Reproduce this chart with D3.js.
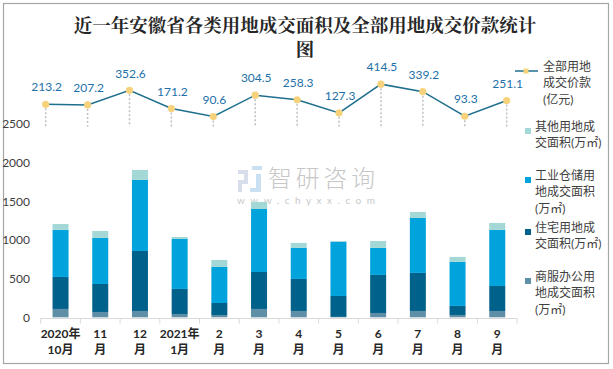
<!DOCTYPE html>
<html><head><meta charset="utf-8">
<script src="https://cdn.jsdelivr.net/npm/d3@7"></script>
<style>
html,body{margin:0;padding:0;background:#fff;}
svg{display:block;}
text{font-family:"Lato","Noto Sans CJK SC",sans-serif;}
</style></head>
<body>
<svg id="c" width="613" height="369"></svg>
<script>
const categories = [["2020年","10月"],["11","月"],["12","月"],["2021年","1月"],["2","月"],["3","月"],["4","月"],["5","月"],["6","月"],["7","月"],["8","月"],["9","月"]];
const commercial = [108, 69, 82, 43, 30, 108, 82, 5, 56, 82, 30, 82];
const residential = [414, 362, 776, 324, 155, 478, 414, 271, 492, 492, 117, 323];
const industrial = [608, 595, 919, 646, 466, 815, 401, 699, 349, 711, 569, 725];
const other = [77, 91, 129, 26, 91, 91, 65, 12, 90, 78, 65, 90];
const price = [213.2, 207.2, 352.6, 171.2, 90.6, 304.5, 258.3, 127.3, 414.5, 339.2, 93.3, 251.1];
const yTicks = [0, 500, 1000, 1500, 2000, 2500];

const colors = ["#5f8fa7","#00618a","#00a3dc","#a4d8d7"];
const svg = d3.select("#c");

// border
svg.append("rect").attr("x",3.5).attr("y",3.5).attr("width",605).attr("height",360)
  .attr("fill","none").attr("stroke","#a6a6a6").attr("stroke-width",1.2);

// title
const tfont = '"Noto Serif CJK SC","Noto Sans CJK SC",serif';
svg.append("text").attr("x",305).attr("y",32).attr("text-anchor","middle")
  .attr("font-size",18.5).attr("font-weight",700).attr("fill","#262626")
  .style("font-family",tfont).text("近一年安徽省各类用地成交面积及全部用地成交价款统计");
svg.append("text").attr("x",305).attr("y",56).attr("text-anchor","middle")
  .attr("font-size",18.5).attr("font-weight",700).attr("fill","#262626")
  .style("font-family",tfont).text("图");

// watermark
const wm = svg.append("g").attr("opacity",0.55);
wm.append("rect").attr("x",238).attr("y",170).attr("width",10).attr("height",4).attr("fill","#b7c3dc");
wm.append("rect").attr("x",244).attr("y",170).attr("width",4).attr("height",12).attr("fill","#b7c3dc");
wm.append("rect").attr("x",238).attr("y",180).attr("width",10).attr("height",4).attr("fill","#b7c3dc");
wm.append("rect").attr("x",238).attr("y",180).attr("width",4).attr("height",12).attr("fill","#b7c3dc");
wm.append("rect").attr("x",252).attr("y",166).attr("width",10).attr("height",4).attr("fill","#9cc8e8");
wm.append("rect").attr("x",256).attr("y",174).attr("width",5).attr("height",18).attr("fill","#9cc8e8");
wm.append("rect").attr("x",250).attr("y",188).attr("width",11).attr("height",4).attr("fill","#9cc8e8");
wm.append("text").attr("x",268).attr("y",187).attr("font-size",24).attr("fill","#9a9a9a")
  .style("font-family",'"Noto Sans CJK SC",sans-serif').style("font-weight",300)
  .attr("textLength",107).text("智研咨询");
wm.append("text").attr("x",237).attr("y",204).attr("font-size",10).attr("fill","#9a9a9a")
  .attr("textLength",138).text("www.chyxx.com");

// bar scales
const xb = d3.scaleBand().domain(d3.range(12)).range([40.7, 517.1]);
const y = d3.scaleLinear().domain([0, 2500]).range([317.3, 124]);
const bw = 16;

// stacks
const rows = d3.range(12).map(i => ({i, c: commercial[i], r: residential[i], ind: industrial[i], o: other[i]}));
const stack = d3.stack().keys(["c","r","ind","o"])(rows);
svg.append("g").selectAll("g").data(stack).join("g").attr("fill",(d,k)=>colors[k])
  .selectAll("rect").data(d=>d).join("rect")
  .attr("x",d=>xb(d.data.i)+xb.bandwidth()/2-bw/2).attr("width",bw)
  .attr("y",d=>y(d[1])).attr("height",d=>y(d[0])-y(d[1]));

// y axis labels
svg.append("g").selectAll("text").data(yTicks).join("text")
  .attr("x",30).attr("y",d=>y(d)).attr("dy","0.35em").attr("text-anchor","end")
  .attr("font-size",12).attr("fill","#404040").text(d=>d);

// x axis
const xa = svg.append("g");
xa.append("line").attr("x1",xb.range()[0]).attr("x2",xb.range()[1]).attr("y1",318.5).attr("y2",318.5)
  .attr("stroke","#d9d9d9").attr("stroke-width",1);
xa.selectAll("line.t").data(d3.range(13)).join("line").attr("class","t")
  .attr("x1",i=>xb.range()[0]+i*xb.step()).attr("x2",i=>xb.range()[0]+i*xb.step())
  .attr("y1",318.5).attr("y2",323.5).attr("stroke","#d9d9d9");
xa.selectAll("text").data(d3.range(12)).join("text")
  .attr("x",i=>xb(i)+xb.bandwidth()/2).attr("y",338).attr("text-anchor","middle")
  .attr("font-size",12).attr("font-weight",700).attr("fill","#262626")
  .each(function(i){
    const t=d3.select(this);
    t.append("tspan").attr("x",xb(i)+xb.bandwidth()/2).attr("dy",0).text(categories[i][0]);
    t.append("tspan").attr("x",xb(i)+xb.bandwidth()/2).attr("dy",16).text(categories[i][1]);
  });

// line chart
const xl = d3.scaleBand().domain(d3.range(12)).range([24.75, 527.6]);
const yl = d3.scaleLinear().domain([0, 500]).range([125.6, 75.6]);
const lx = i => xl(i)+xl.bandwidth()/2;
svg.append("g").selectAll("line").data(price).join("line")
  .attr("x1",(d,i)=>lx(i)).attr("x2",(d,i)=>lx(i)).attr("y1",d=>yl(d)).attr("y2",126.5)
  .attr("stroke","#bfbfbf").attr("stroke-width",1.5).attr("stroke-dasharray","2,2");
svg.append("path").datum(price)
  .attr("d",d3.line().x((d,i)=>lx(i)).y(d=>yl(d)))
  .attr("fill","none").attr("stroke","#1f6f8e").attr("stroke-width",1.5);
svg.append("g").selectAll("circle").data(price).join("circle")
  .attr("cx",(d,i)=>lx(i)).attr("cy",d=>yl(d)).attr("r",3.6).attr("fill","#f7d27c");
svg.append("g").selectAll("text").data(price).join("text")
  .attr("x",(d,i)=>lx(i)+1).attr("y",d=>yl(d)-17).attr("dy","0.35em").attr("text-anchor","middle")
  .attr("font-size",12).attr("fill","#2270a8").text(d=>d.toFixed(1));

// legend
const lg = svg.append("g").attr("font-size",12).attr("fill","#404040")
  .style("font-family",'"Noto Sans CJK SC",sans-serif');
lg.append("line").attr("x1",515).attr("x2",538).attr("y1",71).attr("y2",71).attr("stroke","#1f6f8e").attr("stroke-width",1.5);
lg.append("rect").attr("x",523.5).attr("y",68.5).attr("width",5).attr("height",5).attr("fill","#f7d27c");
function multi(xp, yp, lines){
  const t = lg.append("text").attr("x",xp).attr("y",yp).attr("dy","0.35em");
  lines.forEach((s,k)=>t.append("tspan").attr("x",xp).attr("dy",k?16.3:0).text(s));
}
multi(543,71,["全部用地","成交价款","(亿元)"]);
const legendItems = [
  {c:colors[3], y:131, lines:["其他用地成","交面积(万㎡)"]},
  {c:colors[2], y:180, lines:["工业仓储用","地成交面积","(万㎡)"]},
  {c:colors[1], y:232, lines:["住宅用地成","交面积(万㎡)"]},
  {c:colors[0], y:281, lines:["商服办公用","地成交面积","(万㎡)"]}
];
legendItems.forEach(it=>{
  lg.append("rect").attr("x",525).attr("y",it.y-3).attr("width",6).attr("height",6).attr("fill",it.c);
  multi(535,it.y,it.lines);
});
</script>
</body></html>
